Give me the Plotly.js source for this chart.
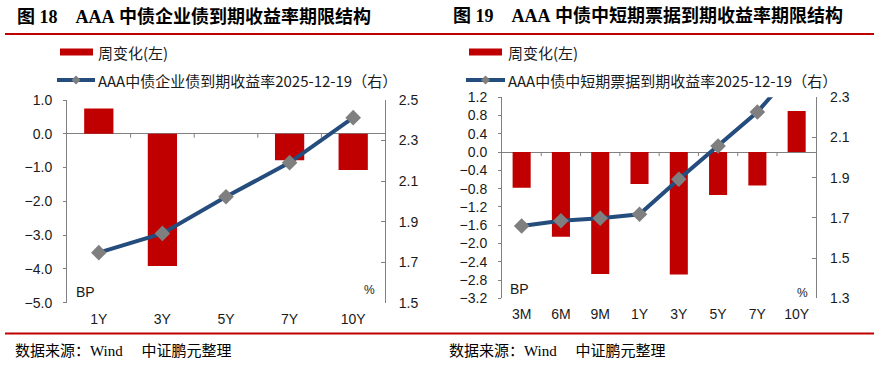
<!DOCTYPE html>
<html>
<head>
<meta charset="utf-8">
<script src="https://cdn.plot.ly/plotly-3.0.1.min.js"></script>
<style>html,body{margin:0;padding:0;background:#fff;}#chart{width:874px;height:370px;}</style>
</head>
<body>
<div id="chart"></div>
<script>
// ---- data ----
const leftTitle = '图\u00A018\u00A0\u00A0\u00A0\u00A0AAA\u00A0中债企业债到期收益率期限结构';
const rightTitle = '图\u00A019\u00A0\u00A0\u00A0\u00A0AAA\u00A0中债中短期票据到期收益率期限结构';
const barName = '周变化(左)';
const leftLineName = 'AAA中债企业债到期收益率2025-12-19（右）';
const rightLineName = 'AAA中债中短期票据到期收益率2025-12-19（右）';
const sourceText = '数据来源：Wind\u00A0\u00A0\u00A0\u00A0\u00A0中证鹏元整理';

const leftCats = ['1Y', '3Y', '5Y', '7Y', '10Y'];
const leftChange = [0.75, -3.91, 0, -0.78, -1.07];
const leftYield = [1.747, 1.842, 2.023, 2.191, 2.413];

const rightCats = ['3M', '6M', '9M', '1Y', '3Y', '5Y', '7Y', '10Y'];
const rightChange = [-0.78, -1.85, -2.67, -0.70, -2.68, -0.94, -0.73, 0.90];
const rightYield = [1.660, 1.686, 1.698, 1.718, 1.892, 2.058, 2.227, 2.45];

// ---- styling ----
const W = 874, H = 370;
const px = x => x / W;
const py = y => 1 - y / H;
const RED = '#c00000', BLUE = '#244c7c', GREY = '#7f7f7f', AX = '#808080';
const numFont = {family: 'Liberation Sans, Arial, sans-serif', size: 14, color: '#1a1a1a'};
const cjkFont = {family: 'Noto Sans CJK SC, sans-serif', size: 15, color: '#1a1a1a'};

const L = {x0: 67, x1: 385, y0: 100, y1: 302.7};
const R = {x0: 502, x1: 816.3, y0: 97.3, y1: 298.3};

const traces = [
  {type: 'bar', x: leftCats, y: leftChange, xaxis: 'x', yaxis: 'y', marker: {color: RED}, showlegend: false, name: barName},
  {type: 'scatter', mode: 'lines+markers', x: leftCats, y: leftYield, xaxis: 'x', yaxis: 'y2',
   line: {color: BLUE, width: 4}, marker: {symbol: 'diamond', size: 12, color: GREY}, showlegend: false, name: leftLineName},
  {type: 'bar', x: rightCats, y: rightChange, xaxis: 'x2', yaxis: 'y3', marker: {color: RED}, showlegend: false, name: barName},
  {type: 'scatter', mode: 'lines+markers', x: rightCats, y: rightYield, xaxis: 'x2', yaxis: 'y4',
   line: {color: BLUE, width: 4}, marker: {symbol: 'diamond', size: 12, color: GREY}, showlegend: false, name: rightLineName}
];

function xAx(box, anchor, n) {
  return {domain: [px(box.x0), px(box.x1)], anchor: anchor, type: 'category', range: [-0.5, n - 0.5],
    showline: false, ticks: '', showgrid: false, zeroline: false, tickfont: numFont, ticklabelstandoff: 6, fixedrange: true};
}
function yLeft(box, anchor, rng, dt) {
  return {domain: [py(box.y1), py(box.y0)], anchor: anchor, range: rng, dtick: dt, tick0: 0, tickformat: '.1f',
    showline: true, linecolor: AX, linewidth: 1, ticks: 'outside', ticklen: 3, tickcolor: AX,
    showgrid: false, zeroline: true, zerolinecolor: AX, zerolinewidth: 1, tickfont: numFont, ticklabelstandoff: 8, fixedrange: true};
}
function yRight(over, anchor, rng, dt, t0) {
  return {overlaying: over, side: 'right', anchor: anchor, range: rng, dtick: dt, tick0: t0, tickformat: '.1f',
    showline: true, linecolor: AX, linewidth: 1, ticks: 'inside', ticklen: 4, tickcolor: AX,
    showgrid: false, zeroline: false, tickfont: numFont, ticklabelstandoff: 10, fixedrange: true};
}

const shapes = [];
const annotations = [];
function zeroTicks(xref, yref, n) {
  for (let i = 0; i < n - 1; i++) {
    shapes.push({type: 'line', xref: xref, yref: yref, x0: i + 0.5, x1: i + 0.5, ysizemode: 'pixel', yanchor: 0,
      y0: 0, y1: -4, line: {color: AX, width: 1}});
  }
}
zeroTicks('x', 'y', leftCats.length);
zeroTicks('x2', 'y3', rightCats.length);

function hline(x0, x1, y, color, w) {
  shapes.push({type: 'line', xref: 'paper', yref: 'paper', x0: px(x0), x1: px(x1), y0: py(y), y1: py(y), line: {color: color, width: w}});
}
// title rules
hline(5, 437, 34, RED, 2.2);
hline(437, 874, 34, RED, 2.2);
hline(5, 874, 333.5, RED, 2.2);

function text(t, x, y, font, xanchor) {
  annotations.push({text: t, xref: 'paper', yref: 'paper', x: px(x), y: py(y), xanchor: xanchor || 'left', yanchor: 'middle',
    showarrow: false, font: font});
}
function legend(rx0, rx1, ry, lx0, lx1, ly, tx, lineName) {
  shapes.push({type: 'rect', xref: 'paper', yref: 'paper', x0: px(rx0), x1: px(rx1), y0: py(ry + 3.5), y1: py(ry - 3.5),
    fillcolor: RED, line: {width: 0}});
  text(barName, tx, ry, cjkFont);
  shapes.push({type: 'line', xref: 'paper', yref: 'paper', x0: px(lx0), x1: px(lx1), y0: py(ly), y1: py(ly), line: {color: BLUE, width: 4}});
  const cx = (lx0 + lx1) / 2, d = 4.5;
  shapes.push({type: 'path', xref: 'paper', yref: 'paper', fillcolor: GREY, line: {width: 0},
    path: `M ${px(cx - d)},${py(ly)} L ${px(cx)},${py(ly - d)} L ${px(cx + d)},${py(ly)} L ${px(cx)},${py(ly + d)} Z`});
  text(lineName, tx, ly, cjkFont);
}
legend(60, 93, 52, 57, 95, 80, 96, leftLineName);
legend(469, 502, 52, 466, 505, 80, 506, rightLineName);

const titleFont = {family: 'Liberation Serif, Noto Sans CJK SC, serif', size: 18, color: '#000'};
text('<b>' + leftTitle + '</b>', 15, 16, titleFont);
text('<b>' + rightTitle + '</b>', 451, 16, titleFont);

const srcFont = {family: 'Liberation Serif, Noto Sans CJK SC, serif', size: 15, color: '#000'};
text(sourceText, 13, 351, srcFont);
text(sourceText, 447, 351, srcFont);

const unitFont = {family: 'Liberation Sans, Arial, sans-serif', size: 14, color: '#1a1a1a'};
text('BP', 85, 292, unitFont, 'center');
text('%', 369, 290, {...unitFont, size: 12}, 'center');
text('BP', 519, 289, unitFont, 'center');
text('%', 802, 293, {...unitFont, size: 12}, 'center');

const layout = {
  width: W, height: H, autosize: false,
  margin: {l: 0, r: 0, t: 0, b: 0, pad: 0},
  paper_bgcolor: '#fff', plot_bgcolor: 'rgba(0,0,0,0)',
  showlegend: false, bargap: 0.54,
  xaxis: xAx(L, 'y', leftCats.length),
  yaxis: yLeft(L, 'x', [-5, 1], 1),
  yaxis2: yRight('y', 'x', [1.5, 2.5], 0.2, 1.5),
  xaxis2: xAx(R, 'y3', rightCats.length),
  yaxis3: yLeft(R, 'x2', [-3.2, 1.2], 0.4),
  yaxis4: yRight('y3', 'x2', [1.3, 2.3], 0.2, 1.3),
  shapes: shapes, annotations: annotations
};

Plotly.newPlot('chart', traces, layout, {displayModeBar: false, staticPlot: true});
</script>
</body>
</html>
